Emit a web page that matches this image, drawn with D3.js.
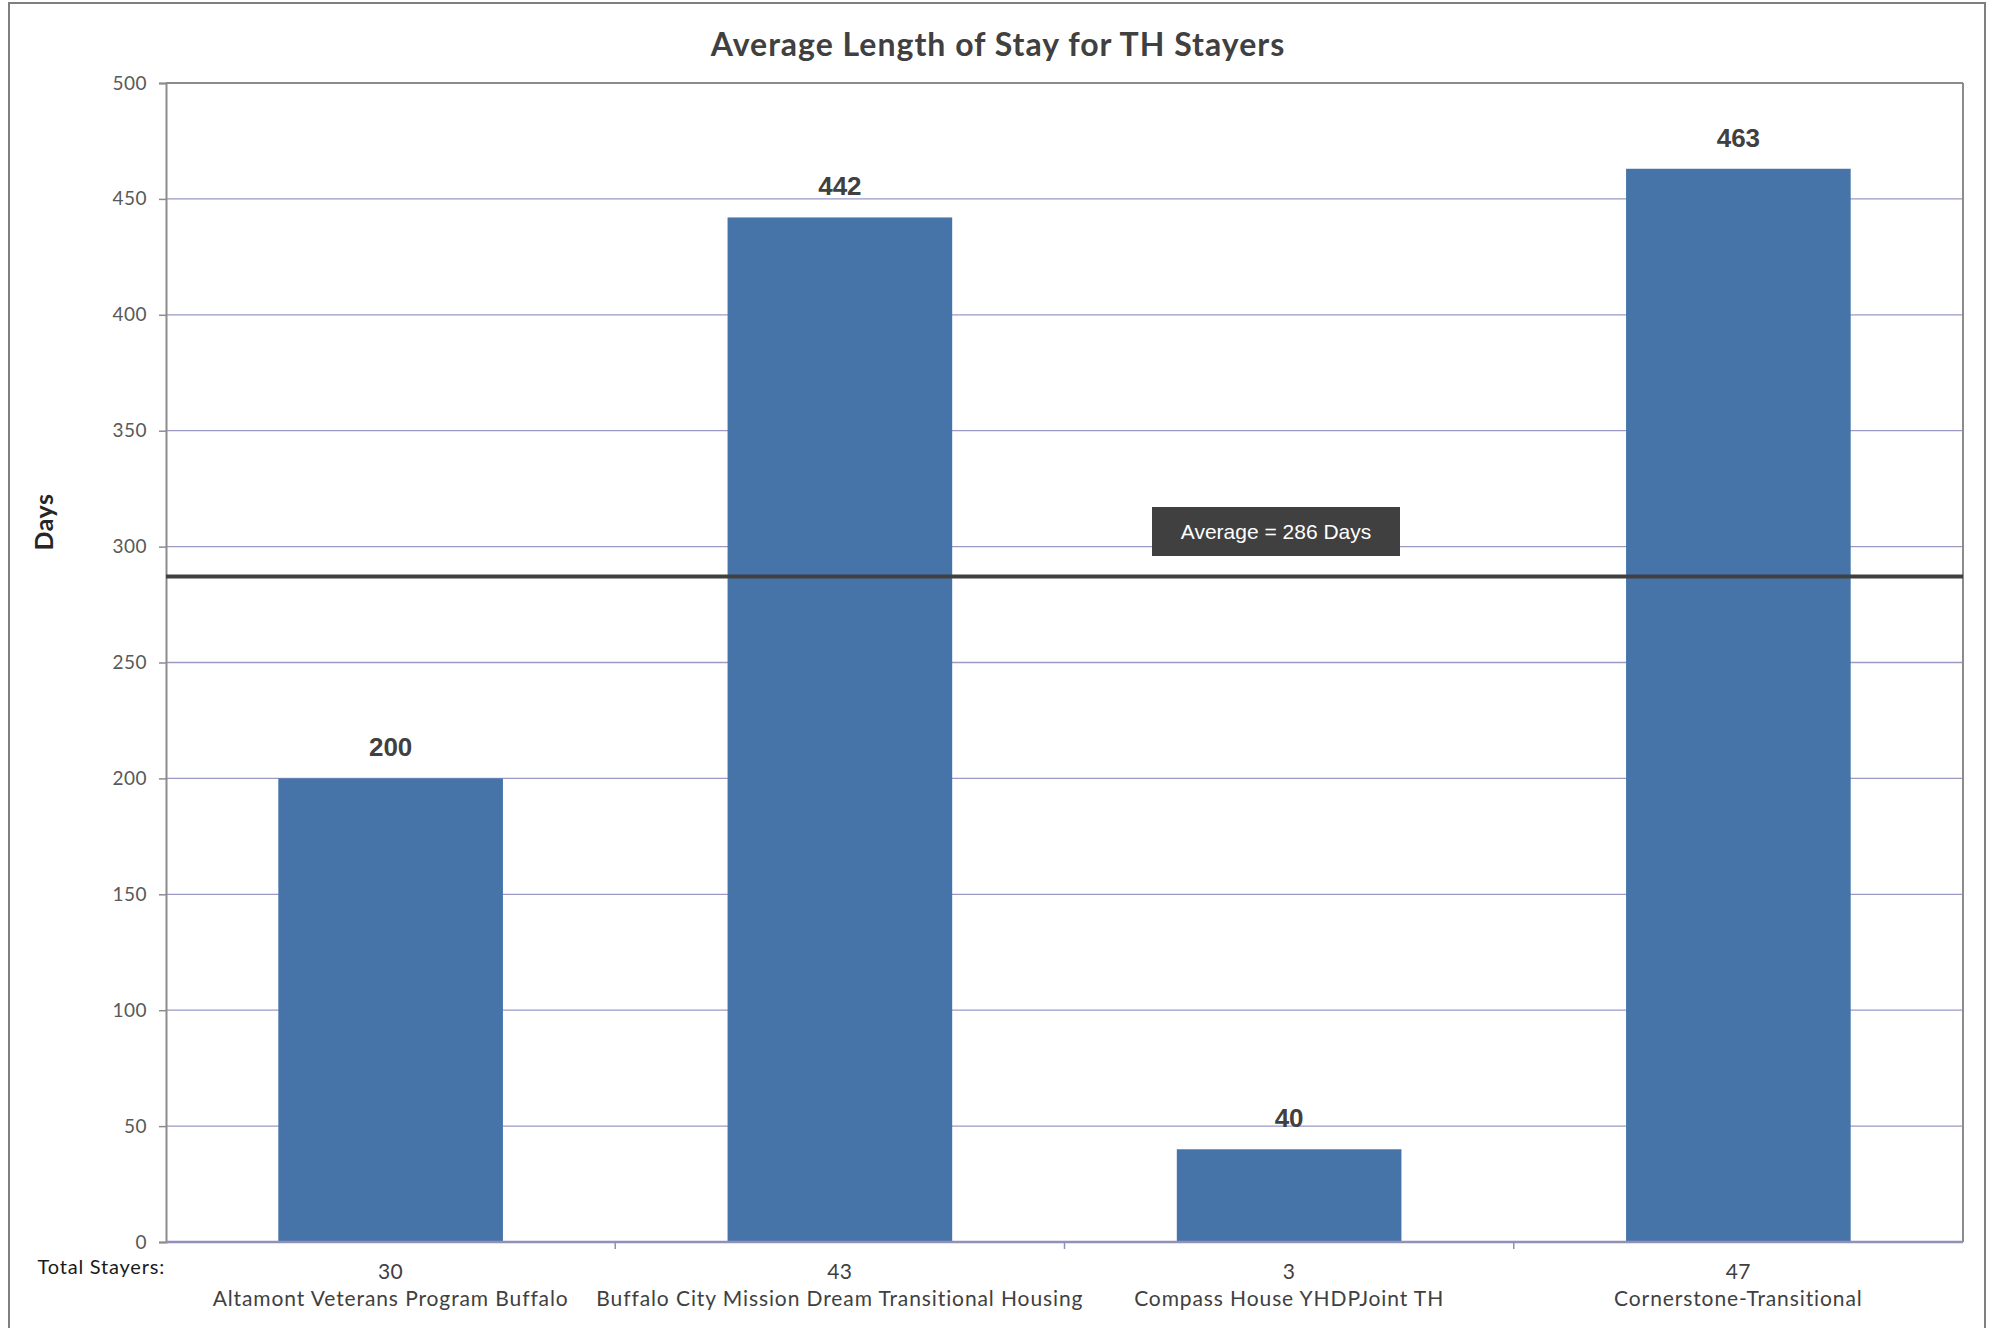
<!DOCTYPE html>
<html><head><meta charset="utf-8">
<script src="https://cdn.jsdelivr.net/npm/d3@7"></script>
<style>body{margin:0;background:#fff;} svg{display:block;}</style>
</head><body>
<script>
const categories = ["Altamont Veterans Program Buffalo","Buffalo City Mission Dream Transitional Housing","Compass House YHDPJoint TH","Cornerstone-Transitional"];
const values = [200, 442, 40, 463];
const totalStayers = [30, 43, 3, 47];
const yTicks = [0,50,100,150,200,250,300,350,400,450,500];
const averageValue = 286.25;
const averageLabel = "Average = 286 Days";
const title = "Average Length of Stay for TH Stayers";

const W = 1995, H = 1328;
const m = {left:166, right:1963, top:83, bottom:1242};
const svg = d3.select("body").append("svg").attr("width",W).attr("height",H);
svg.append("rect").attr("width",W).attr("height",H).attr("fill","#fff");
// outer border
svg.append("rect").attr("x",9).attr("y",3).attr("width",1976).attr("height",1340)
  .attr("fill","none").attr("stroke","#7f7f7f").attr("stroke-width",2);

const x = d3.scaleBand().domain(categories).range([m.left,m.right]).paddingInner(0.5).paddingOuter(0.25);
const y = d3.scaleLinear().domain([0,500]).range([m.bottom,m.top]);

const font = "'Lato', 'Open Sans', sans-serif";

// gridlines
svg.append("g").selectAll("line").data(yTicks.filter(t=>t>0 && t<500)).join("line")
  .attr("x1",m.left).attr("x2",m.right).attr("y1",d=>y(d)).attr("y2",d=>y(d))
  .attr("stroke","#9a9ac4").attr("stroke-width",1.3);

// plot border top/right
svg.append("line").attr("x1",m.left).attr("x2",m.right).attr("y1",m.top).attr("y2",m.top).attr("stroke","#8c8c8c").attr("stroke-width",2);
svg.append("line").attr("x1",m.right).attr("x2",m.right).attr("y1",m.top).attr("y2",m.bottom).attr("stroke","#8c8c8c").attr("stroke-width",2);

// y axis
const yAxis = svg.append("g").attr("transform",`translate(${m.left},0)`)
  .call(d3.axisLeft(y).tickValues(yTicks).tickSize(7).tickPadding(12).tickFormat(d3.format("d")));
yAxis.select(".domain").attr("stroke","#8c8c8c").attr("stroke-width",2);
yAxis.selectAll(".tick line").attr("stroke","#8c8c8c").attr("stroke-width",1.5);
yAxis.selectAll("text").attr("font-family",font).attr("font-size",19).attr("fill","#595959").attr("letter-spacing",0.5);

// bars
svg.append("g").selectAll("rect").data(values).join("rect")
  .attr("x",(d,i)=>x(categories[i])).attr("width",x.bandwidth())
  .attr("y",d=>y(d)).attr("height",d=>y(0)-y(d)).attr("fill","#4674a8");

// value labels
svg.append("g").selectAll("text").data(values).join("text")
  .attr("x",(d,i)=>x(categories[i])+x.bandwidth()/2).attr("y",d=>y(d)-22)
  .attr("text-anchor","middle").attr("font-family","'Liberation Sans', Arial, sans-serif")
  .attr("font-weight","bold").attr("font-size",26).attr("fill","#404040").text(d=>d);

// x axis line
svg.append("line").attr("x1",m.left).attr("x2",m.right).attr("y1",m.bottom).attr("y2",m.bottom)
  .attr("stroke","#9090b8").attr("stroke-width",2.5);
// category separators
svg.append("g").selectAll("line").data(categories.slice(1)).join("line")
  .attr("x1",d=>x(d)-x.bandwidth()/2).attr("x2",d=>x(d)-x.bandwidth()/2)
  .attr("y1",m.bottom).attr("y2",m.bottom+7).attr("stroke","#9090b8").attr("stroke-width",1.5);

// x labels
const xl = svg.append("g");
xl.selectAll("text.n").data(totalStayers).join("text").attr("class","n")
  .attr("x",(d,i)=>x(categories[i])+x.bandwidth()/2).attr("y",1279)
  .attr("text-anchor","middle").attr("font-family",font).attr("font-size",21).attr("letter-spacing",0.5)
  .attr("fill","#404040").text(d=>d);
xl.selectAll("text.c").data(categories).join("text").attr("class","c")
  .attr("x",d=>x(d)+x.bandwidth()/2).attr("y",1306)
  .attr("text-anchor","middle").attr("font-family",font).attr("font-size",21).attr("letter-spacing",0.9)
  .attr("fill","#404040").text(d=>d);
svg.append("text").attr("x",165).attr("y",1274).attr("text-anchor","end")
  .attr("font-family",font).attr("font-size",20).attr("letter-spacing",0.8).attr("fill","#1a1a1a").text("Total Stayers:");

// average line
svg.append("line").attr("x1",m.left).attr("x2",m.right).attr("y1",y(averageValue)-2).attr("y2",y(averageValue)-2)
  .attr("stroke","#404040").attr("stroke-width",4);
// average box
svg.append("rect").attr("x",1152).attr("y",507).attr("width",248).attr("height",49).attr("fill","#404040");
svg.append("text").attr("x",1276).attr("y",539).attr("text-anchor","middle")
  .attr("font-family","'Liberation Sans', Arial, sans-serif").attr("font-size",21).attr("fill","#fff").text(averageLabel);

// title
svg.append("text").attr("x",998).attr("y",56).attr("text-anchor","middle")
  .attr("font-family",font).attr("font-weight","bold").attr("font-size",32).attr("letter-spacing",1)
  .attr("fill","#404040").text(title);
// y label
svg.append("text").attr("transform","translate(53,522) rotate(-90)").attr("text-anchor","middle")
  .attr("font-family",font).attr("font-weight","bold").attr("font-size",25).attr("letter-spacing",0.5)
  .attr("fill","#262626").text("Days");
</script>
</body></html>
